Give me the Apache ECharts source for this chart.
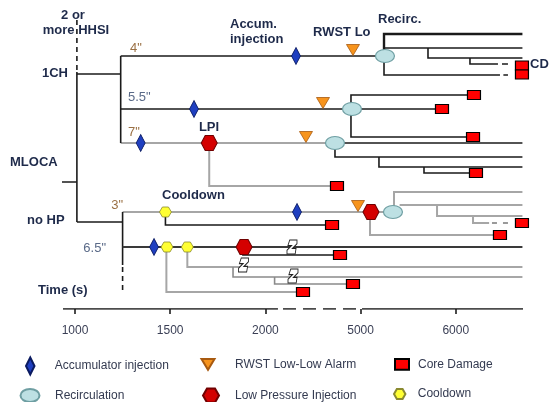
<!DOCTYPE html>
<html><head><meta charset="utf-8">
<script src="https://cdn.jsdelivr.net/npm/echarts@6/dist/echarts.min.js"></script>
<style>html,body{margin:0;padding:0;background:#fff}#c{width:549px;height:402px}</style>
</head><body><div id="c"></div>
<script>
// ---- broken time axis ----
const tickTimes = [1000, 1500, 2000, 5000, 6000];
const tickLabels = ['1000', '1500', '2000', '5000', '6000'];
const axisStart = 937, axisEnd = 6706;
const axisSolidA = [[937, 309], [2396, 309]];
const axisDashed = [[2555, 309], [4886, 309]];
const axisSolidB = [[5015, 309], [6706, 309]];

// ---- event markers: [time (s), tree row] ----
const accumulator = [[2964, 56], [1625, 109], [1345, 143], [2996, 212], [1415, 247]];
const rwstLowLow = [[4760, 56], [3815, 109], [3279, 143], [4918, 212]];
const recirculation = [[5256, 56], [4729, 109], [4193, 143], [5340, 212]];
const lowPressureInj = [[1705, 143], [5109, 212], [1888, 247]];
const cooldown = [[1475, 212], [1483, 247], [1590, 247]];
const coreDamage = [[6695, 65.5], [6695, 74.5], [6191, 95], [5855, 109], [6181, 137], [6212, 173],
  [4256, 186], [4100, 225], [6695, 223], [6464, 235], [4351, 255], [4760, 284], [3185, 292]];
const timeBreaks = [[2838, 247], [1885, 265], [2870, 276]];

// ---- tree branches: polylines of [time (s), row] ----
const blackBranches = [
  [[711, 182], [1010, 182]],
  [[1010, 72], [1010, 222]],
  [[1010, 74], [1240, 74]],
  [[1240, 56], [1240, 143]],
  [[1240, 56], [5256, 56]],
  [[5246, 48], [6700, 48]],
  [[5708, 48], [5708, 58], [6700, 58]],
  [[6149, 58], [6149, 64], [6443, 64]],
  [[6485, 64], [6548, 64]],
  [[5246, 56], [5246, 75], [6464, 75]],
  [[6500, 75], [6548, 75]],
  [[1240, 109], [5855, 109]],
  [[4697, 109], [4697, 95], [6191, 95]],
  [[4697, 109], [4697, 137], [6181, 137]],
  [[4193, 143], [6700, 143]],
  [[4193, 143], [4193, 157], [6700, 157]],
  [[5193, 157], [5193, 167], [6700, 167]],
  [[5666, 167], [5666, 173], [6212, 173]],
  [[1010, 222], [1250, 222]],
  [[1250, 212], [1250, 265]],
  [[1475, 212], [1475, 225], [4100, 225]],
  [[1882, 247], [1882, 255], [4351, 255]]
];
const thickBranches = [[[5246, 56], [5246, 34], [6700, 34]]];
const darkBranches = [[[1250, 247], [6700, 247]]];
const grayBranches = [
  [[1240, 143], [4193, 143]],
  [[1705, 143], [1705, 186], [4256, 186]],
  [[1250, 212], [5340, 212]],
  [[5351, 212], [5351, 192], [6700, 192]],
  [[5410, 205], [6700, 205]],
  [[5803, 205], [5803, 216], [6700, 216]],
  [[6181, 216], [6181, 223], [6350, 223]],
  [[5099, 212], [5099, 235], [6464, 235]],
  [[1590, 247], [1590, 267], [6700, 267]],
  [[1480, 247], [1480, 292], [3185, 292]]
];
const midGrayBranches = [
  [[1830, 267], [1830, 277], [6700, 277]],
  [[2290, 277], [2290, 284], [4760, 284]]
];
const grayDashedBranches = [[[6380, 223], [6560, 223]]];
const dashedBranches = [[[1010, 20], [1010, 72]], [[1250, 267], [1250, 290]]];

// piecewise scale of the broken time axis
function toAxis(t) {
  if (t <= 2000) return (t - 1000) / 500;
  if (t < 5000) return 2 + (t - 2000) / 3000;
  return 3 + (t - 5000) / 1000;
}
const tickUnits = tickTimes.map(toAxis);

const FONT = '"Liberation Sans", Arial, Helvetica, sans-serif';
const NAVY = '#1e2a4a';

const P_DIAMOND = 'path://M5,0 L10,10 L5,20 L0,10 Z';
const P_TRI = 'path://M0,0 L12,0 L6,10 Z';
const P_HEX = 'path://M4,0 L12,0 L16,7 L12,14 L4,14 L0,7 Z';
const P_ELL = 'path://M0,6.5 A9.5,6.5 0 1,0 19,6.5 A9.5,6.5 0 1,0 0,6.5 Z';
const P_RECT = 'path://M0,0 L13,0 L13,10 L0,10 Z';
const P_BREAK = 'path://M3,0 L11,0 L11,4 L6,9 L10,9 L9,15 L0,15 L0,11 L5,6 L1,6 Z';

function lineSeries(list, style) {
  return {
    type: 'lines', coordinateSystem: 'cartesian2d', polyline: true, silent: true, z: 1,
    lineStyle: Object.assign({ opacity: 1, curveness: 0 }, style),
    data: list.map(pl => ({ coords: pl.map(([t, r]) => [toAxis(t), r]) }))
  };
}
function markSeries(name, data, symbol, size, color, border, bw, extra) {
  return Object.assign({
    type: 'scatter', name, symbol, symbolSize: size, z: 3, silent: true,
    itemStyle: { color, borderColor: border, borderWidth: bw, opacity: 1 },
    emphasis: { disabled: true },
    data: data.map(([t, r]) => [toAxis(t), r])
  }, extra || {});
}

const series = [
  lineSeries(grayBranches, { color: '#a6a6a6', width: 2 }),
  lineSeries(midGrayBranches, { color: '#8a8a8a', width: 1.6 }),
  lineSeries(grayDashedBranches, { color: '#9a9a9a', width: 2, type: [5, 6] }),
  lineSeries(blackBranches, { color: '#1a1a1a', width: 1.6 }),
  lineSeries(thickBranches, { color: '#1a1a1a', width: 2.4 }),
  lineSeries(darkBranches, { color: '#3a3a3a', width: 1.8 }),
  lineSeries(dashedBranches, { color: '#1a1a1a', width: 1.6, type: [5, 4] }),
  lineSeries([axisSolidA, axisSolidB], { color: '#111', width: 1.6 }),
  lineSeries([axisDashed], { color: '#111', width: 1.6, type: [13, 7] }),
  markSeries('Accumulator injection', accumulator, P_DIAMOND, [9, 17], '#1f3fc0', '#0a1a60', 0.8),
  markSeries('RWST Low-Low Alarm', rwstLowLow, P_TRI, [13, 11], '#f7941d', '#a85a10', 0.8, { symbolOffset: [0, -6] }),
  markSeries('Recirculation', recirculation, 'circle', [19, 13], '#bde0e3', '#6e9ea2', 1),
  markSeries('Low Pressure Injection', lowPressureInj, P_HEX, [16, 15], '#d40000', '#700000', 1),
  markSeries('Cooldown', cooldown, P_HEX, [12, 10], '#ffff33', '#8a8a30', 0.8),
  markSeries('Core Damage', coreDamage, 'rect', [13, 9], '#ff0000', '#000000', 1),
  markSeries('break', timeBreaks, P_BREAK, [10, 14], '#ffffff', '#222222', 1)
];

function legendItem(name, icon, w, h, cx, cy, textX) {
  const left = cx - w / 2;
  const pad = textX - left - w - 5;
  return {
    data: [{ name, icon }], left, top: cy - Math.max(h, 14) / 2, padding: 0,
    itemWidth: w, itemHeight: h, selectedMode: false,
    textStyle: { fontFamily: FONT, fontSize: 12, color: '#333a50', padding: [0, 0, 0, pad] }
  };
}
const legends = [
  legendItem('Accumulator injection', P_DIAMOND, 9, 17, 29.5, 365, 54),
  legendItem('RWST Low-Low Alarm', P_TRI, 13, 11, 207, 365, 234),
  legendItem('Core Damage', P_RECT, 14, 11, 401, 365, 417),
  legendItem('Recirculation', P_ELL, 19, 13, 29, 395, 54),
  legendItem('Low Pressure Injection', P_HEX, 16, 15, 210, 395, 234),
  legendItem('Cooldown', P_HEX, 12, 10, 399, 395, 417)
];

function txt(text, x, y, opts) {
  const o = Object.assign({ align: 'left', weight: 'bold', size: 13, color: NAVY }, opts || {});
  return {
    type: 'text', x, y, silent: true, z: 10,
    style: {
      text, fill: o.color, align: o.align, textAlign: o.align,
      verticalAlign: 'middle', textVerticalAlign: 'middle',
      font: o.weight + ' ' + o.size + 'px ' + FONT
    }
  };
}
const SIZE_A = '#9a7044', SIZE_B = '#5a6a88';
const graphics = [
  txt('2 or', 73, 15, { align: 'center' }),
  txt('more HHSI', 76, 30, { align: 'center' }),
  txt('Accum.', 230, 24),
  txt('injection', 230, 39),
  txt('RWST Lo', 313, 32),
  txt('Recirc.', 378, 19),
  txt('CD', 530, 64),
  txt('LPI', 209, 127, { align: 'center' }),
  txt('Cooldown', 162, 195),
  txt('1CH', 42, 73),
  txt('MLOCA', 10, 162),
  txt('no HP', 27, 220),
  txt('Time (s)', 38, 290),
  txt('4"', 130, 48, { weight: 'normal', color: SIZE_A }),
  txt('5.5"', 128, 97, { weight: 'normal', color: SIZE_B }),
  txt('7"', 128, 132, { weight: 'normal', color: SIZE_A }),
  txt('3"', 123, 205, { weight: 'normal', color: SIZE_A, align: 'right' }),
  txt('6.5"', 106, 248, { weight: 'normal', color: SIZE_B, align: 'right' })
];

const chart = echarts.init(document.getElementById('c'), null, { renderer: 'canvas' });
chart.setOption({
  animation: false,
  backgroundColor: '#ffffff',
  grid: { left: 63, top: 0, width: 460, height: 309 },
  xAxis: {
    type: 'value', position: 'bottom', min: toAxis(axisStart), max: toAxis(axisEnd),
    axisLine: { show: false, onZero: false },
    splitLine: { show: false },
    axisTick: { show: true, customValues: tickUnits, length: 5, lineStyle: { color: '#111', width: 1.5 } },
    axisLabel: {
      show: true, customValues: tickUnits, margin: 16,
      fontFamily: FONT, fontSize: 12, color: '#3a3f55',
      formatter: v => { const i = tickUnits.findIndex(u => Math.abs(u - v) < 1e-6); return i >= 0 ? tickLabels[i] : ''; }
    }
  },
  yAxis: { type: 'value', inverse: true, min: 0, max: 309, show: false },
  legend: legends,
  graphic: graphics,
  series
});
</script></body></html>
